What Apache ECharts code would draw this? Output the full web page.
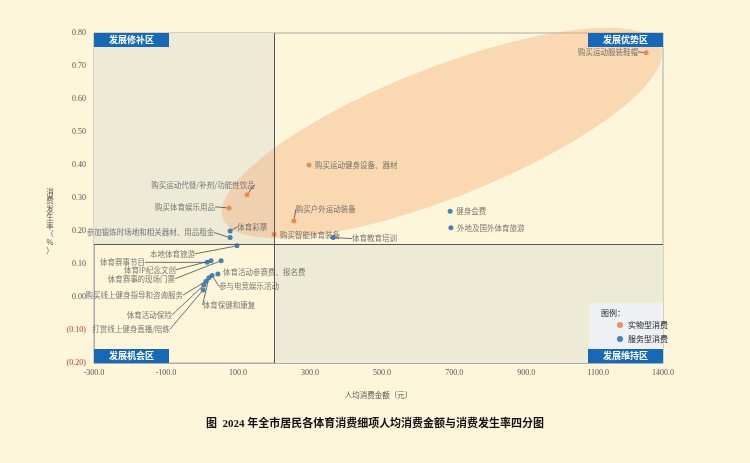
<!DOCTYPE html>
<html>
<head>
<meta charset="utf-8">
<script src="https://cdn.jsdelivr.net/npm/echarts@6/dist/echarts.min.js"></script>
<style>
html, body { margin: 0; padding: 0; background: #fdf6da; }
#chart { width: 750px; height: 463px; }
</style>
</head>
<body>
<div id="chart"></div>
<script>
// 实物型消费
const goodsNames = ['购买运动服装鞋帽', '购买运动健身设备、器材', '购买运动代餐/补剂/功能性饮品', '购买体育娱乐用品', '购买户外运动装备', '购买智能体育装备'];
const goodsAmount = [1233, 297, 125, 75, 255, 200];
const goodsRate = [0.74, 0.40, 0.31, 0.27, 0.23, 0.19];

// 服务型消费
const serviceNames = ['健身会费', '外地及国外体育旅游', '体育教育培训', '体育彩票', '参加锻炼时场地和相关器材、用品租金', '本地体育旅游', '体育赛事节目', '体育IP纪念文创', '体育赛事的现场门票', '体育活动参赛费、报名费', '参与电竞娱乐活动', '体育保健和康复', '购买线上健身指导和咨询服务', '体育活动保险', '打赏线上健身直播/陪练'];
const serviceAmount = [689, 691, 364, 78, 78, 97, 14, 25, 53, 44, 28, 19, 11, 5, 3];
const serviceRate = [0.26, 0.21, 0.18, 0.20, 0.18, 0.155, 0.105, 0.11, 0.11, 0.07, 0.065, 0.058, 0.048, 0.036, 0.021];

// 四分区分界
const splitAmount = 200;
const splitRate = 0.16;

// 坐标轴范围
const xMin = -300, xMax = 1280, xStep = 200;
const yMin = -0.2, yMax = 0.8, yStep = 0.1;

// 标签偏移 [dx, dy, 对齐, 是否引线]
const labelPos = {
    '购买运动服装鞋帽': [-8, -1, 'right', true],
    '购买运动健身设备、器材': [6, 0, 'left', false],
    '购买运动代餐/补剂/功能性饮品': [-44, -10, 'center', true],
    '购买体育娱乐用品': [-14, -1, 'right', true],
    '购买户外运动装备': [2, -12, 'left', true],
    '购买智能体育装备': [6, 1, 'left', false],
    '健身会费': [6, 0, 'left', false],
    '外地及国外体育旅游': [6, 0, 'left', false],
    '体育教育培训': [19, 1, 'left', true],
    '体育彩票': [7, -4, 'left', true],
    '参加锻炼时场地和相关器材、用品租金': [-16, -5, 'right', true],
    '本地体育旅游': [-42, 8, 'right', true],
    '体育赛事节目': [-62, 0, 'right', true],
    '体育IP纪念文创': [-35, 9, 'right', true],
    '体育赛事的现场门票': [-46, 18, 'right', true],
    '体育活动参赛费、报名费': [5, -2, 'left', false],
    '参与电竞娱乐活动': [7, 11, 'left', true],
    '体育保健和康复': [20, 27, 'center', true],
    '购买线上健身指导和咨询服务': [-23, 14, 'right', true],
    '体育活动保险': [-32, 30, 'right', true],
    '打赏线上健身直播/陪练': [-33, 39, 'right', true]
};

function buildData(names, xs, ys) {
    return names.map((n, i) => ({
        name: n,
        value: [xs[i], ys[i]],
        labelLine: { show: labelPos[n] ? labelPos[n][3] : false }
    }));
}

function layoutLabel(params) {
    const p = labelPos[params.text];
    if (!p) return {};
    const r = params.rect;
    return {
        x: r.x + r.width / 2 + p[0],
        y: r.y + r.height / 2 + p[1],
        align: p[2],
        verticalAlign: 'middle'
    };
}

// 象限底色与高亮椭圆，一个 custom 系列里按顺序画
function renderBackground(params, api) {
    const tl = api.coord([xMin, yMax]);
    const mid = api.coord([splitAmount, splitRate]);
    const br = api.coord([xMax, yMin]);
    const c = api.coord([666, 0.497]);
    return {
        type: 'group',
        silent: true,
        children: [
            { type: 'rect', z2: 0, shape: { x: tl[0], y: tl[1], width: mid[0] - tl[0], height: mid[1] - tl[1] }, style: { fill: '#edebd6' } },
            { type: 'rect', z2: 0, shape: { x: mid[0], y: mid[1], width: br[0] - mid[0], height: br[1] - mid[1] }, style: { fill: '#edebd6' } },
            {
                type: 'ellipse',
                z2: 10,
                x: c[0], y: c[1],
                rotation: 21.5 * Math.PI / 180,
                shape: { cx: 0, cy: 0, rx: 235, ry: 65 },
                style: { fill: 'rgba(244,175,125,0.42)' }
            }
        ]
    };
}

const labelStyle = {
    show: true,
    formatter: '{b}',
    fontSize: 7.5,
    color: '#555',
    fontFamily: 'Noto Sans CJK SC'
};
const lineStyle = { show: true, lineStyle: { color: '#333', width: 0.7 } };

// 区域标签
function quadBox(text, x, y) {
    return {
        type: 'group', x: x, y: y,
        children: [
            { type: 'rect', z: 15, shape: { x: 0, y: 0, width: 75, height: 14 }, style: { fill: '#1768b5' } },
            { type: 'text', z: 16, x: 37.5, y: 7, style: { text: text, fill: '#fff', fontSize: 9, fontWeight: 'bold', fontFamily: 'Noto Sans CJK SC', align: 'center', verticalAlign: 'middle' } }
        ]
    };
}

const chart = echarts.init(document.getElementById('chart'));

const option = {
    backgroundColor: '#fdf6da',
    animation: false,
    title: {
        text: '图  2024 年全市居民各体育消费细项人均消费金额与消费发生率四分图',
        left: 'center',
        top: 414,
        textStyle: { fontSize: 11, fontWeight: 'bold', color: '#111', fontFamily: 'Liberation Serif, Noto Sans CJK SC' }
    },
    grid: { left: 94, right: 87, top: 33, bottom: 100, show: true, borderColor: '#aaa', borderWidth: 1, backgroundColor: 'transparent' },
    legend: {
        data: ['实物型消费', '服务型消费'],
        orient: 'vertical',
        left: 612,
        top: 316,
        itemWidth: 6,
        itemHeight: 6,
        itemGap: 6,
        z: 20,
        textStyle: { fontSize: 8, color: '#222', fontFamily: 'Noto Sans CJK SC' }
    },
    xAxis: {
        type: 'value',
        min: xMin,
        max: xMax,
        interval: xStep,
        name: '人均消费金额（元）',
        nameLocation: 'middle',
        nameGap: 28,
        nameTextStyle: { fontSize: 7.5, color: '#555', fontFamily: 'Noto Sans CJK SC' },
        axisLine: { show: true, onZero: false, lineStyle: { color: '#aaa' } },
        axisTick: { show: false },
        splitLine: { show: false },
        axisLabel: {
            fontSize: 8, color: '#555', fontFamily: 'Liberation Serif', margin: 6,
            showMaxLabel: true,
            formatter: v => v >= xMax ? '1400.0' : v.toFixed(1)
        }
    },
    yAxis: {
        type: 'value',
        min: yMin,
        max: yMax,
        interval: yStep,
        axisLine: { show: true, onZero: false, lineStyle: { color: '#aaa' } },
        axisTick: { show: false },
        splitLine: { show: false },
        axisLabel: {
            fontSize: 8, fontFamily: 'Liberation Serif', margin: 8,
            color: v => Number(v) < 0 ? '#c0392b' : '#555',
            formatter: v => v < 0 ? '(' + Math.abs(v).toFixed(2) + ')' : v.toFixed(2)
        }
    },
    graphic: [
        {
            // 纵轴名称（竖排）
            type: 'text', z: 5, x: 50, y: 188,
            style: { text: '消\n费\n发\n生\n率\n（\n%\n）', fontSize: 7.5, lineHeight: 8.4, fill: '#555', fontFamily: 'Noto Sans CJK SC', align: 'center', verticalAlign: 'top' }
        },
        {
            type: 'rect', z: 14,
            shape: { x: 589, y: 303, width: 74, height: 46 },
            style: { fill: '#eef0f3' }
        },
        {
            type: 'text', z: 16, x: 601, y: 313,
            style: { text: '图例：', fontSize: 8, fill: '#222', fontFamily: 'Noto Sans CJK SC', verticalAlign: 'middle' }
        },
        quadBox('发展修补区', 94, 33),
        quadBox('发展优势区', 588, 33),
        quadBox('发展机会区', 94, 349),
        quadBox('发展维持区', 588, 349)
    ],
    series: [
        {
            type: 'custom',
            name: 'bg',
            z: 1,
            silent: true,
            clip: false,
            renderItem: renderBackground,
            data: [0],
            markLine: {
                silent: true,
                symbol: 'none',
                z: 5,
                label: { show: false },
                lineStyle: { color: '#555', width: 1, type: 'solid' },
                data: [{ xAxis: splitAmount }, { yAxis: splitRate }]
            }
        },
        {
            type: 'scatter',
            name: '实物型消费',
            z: 3,
            symbolSize: 5,
            itemStyle: { color: '#e8793c' },
            label: labelStyle,
            labelLine: lineStyle,
            labelLayout: layoutLabel,
            data: buildData(goodsNames, goodsAmount, goodsRate)
        },
        {
            type: 'scatter',
            name: '服务型消费',
            z: 3,
            symbolSize: 5,
            itemStyle: { color: '#1b65a8' },
            label: labelStyle,
            labelLine: lineStyle,
            labelLayout: layoutLabel,
            data: buildData(serviceNames, serviceAmount, serviceRate)
        }
    ]
};

chart.setOption(option);

window.addEventListener('resize', function() {
    chart.resize();
});
</script>
</body>
</html>
